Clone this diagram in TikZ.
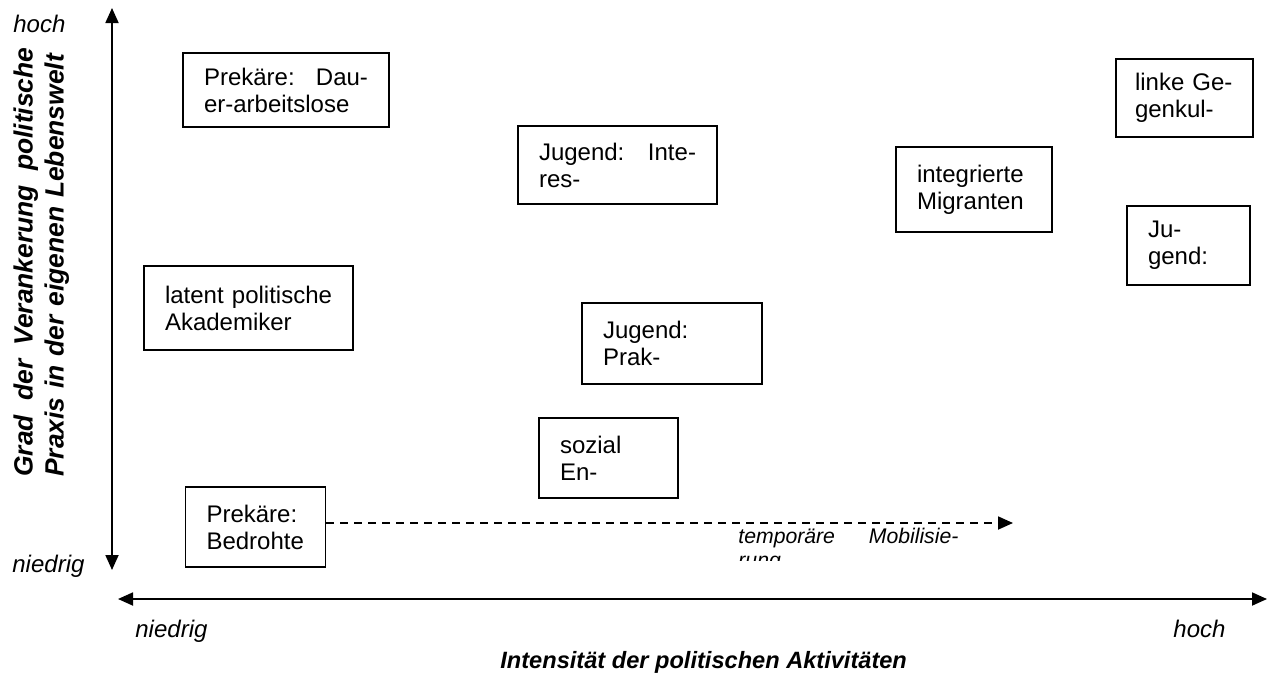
\documentclass[tikz,border=0pt]{standalone}
\usepackage{fontspec}
\setmainfont{Liberation Sans}
\usetikzlibrary{arrows.meta}
\setlength{\parindent}{0pt}
\hyphenpenalty=10000

\begin{document}
\begin{tikzpicture}[x=0.5pt, y=-0.5pt,
		box/.style = {draw, line width=0.9pt, inner xsep=10.5pt, inner ysep=0pt, align=left, font=\fontsize{12}{13.5}\selectfont},
		lbl/.style = {inner sep=0pt, anchor=base west, font=\fontsize{12}{13.5}\selectfont\itshape},
		titel/.style = {inner sep=0pt, font=\fontsize{11.8}{14}\selectfont\bfseries\itshape},
		axis/.style = {line width=0.9pt, {Triangle[length=7.5pt,width=6.5pt]}-{Triangle[length=7.5pt,width=6.5pt]}},
		mobil/.style = {line width=0.9pt, dash pattern=on 4pt off 3pt, -{Triangle[length=7.5pt,width=6.5pt]}}]
		\useasboundingbox (0,0) rectangle (1268,675);
		% axes
		\coordinate (ytop) at (112,8);
		\coordinate (ybot) at (112,570);
		\coordinate (xleft) at (118,599);
		\coordinate (xright) at (1267,599);
		\draw[axis] (ybot) -- (ytop);
		\draw[axis] (xleft) -- (xright);
		\node[lbl] (yhoch) at (13,32) {hoch};
		\node[lbl] (yniedrig) at (12,572) {niedrig};
		\node[lbl] (xniedrig) at (135,637) {niedrig};
		\node[lbl] (xhoch) at (1173,637) {hoch};
		\node[titel, rotate=90, anchor=north west, text width=214.5pt, align=left, font=\fontsize{13.2}{15.5}\selectfont\bfseries\itshape] (ytitel) at (13,477) {Grad\hfill der\hfill Verankerung\hfill politische\\Praxis in der eigenen Lebenswelt};
		\node[titel, anchor=base west] (xtitel) at (500,668) {Intensität der politischen Aktivitäten};
		% groups
		\node[box, text width=82pt, minimum height=37pt] (dauer) at (286,90) {Prekäre:\hfill Dau-\\er-arbeitslose};
		\node[box, text width=78.5pt, minimum height=39pt] (interes) at (617.5,165) {Jugend:\hfill Inte-\\res-};
		\node[box, text width=69pt, minimum height=40.5pt] (prak) at (672,343.5) {Jugend:\\Prak-};
		\node[box, text width=48.5pt, minimum height=40pt] (sozial) at (608.5,458) {sozial\\En-};
		\node[box, text width=49pt, minimum height=40pt] (bedrohte) at (255.5,527) {Prekäre:\\Bedrohte};
		\node[box, text width=83.5pt, minimum height=42pt] (latent) at (248.5,308) {latent\hfill politische\\Akademiker};
		\node[box, text width=49.5pt, inner xsep=9.5pt, minimum height=39pt] (linke) at (1184.5,98) {\mbox{linke Ge-}\\genkul-};
		\node[box, text width=57pt, minimum height=42.5pt] (migranten) at (974,189.5) {integrierte\\Migranten};
		\node[box, text width=40.5pt, minimum height=39.5pt] (jugend) at (1188.5,245.5) {Ju-\\gend:};
		% mobilisation
		\coordinate (ziel) at (1013,523);
		\draw[mobil] ([yshift=2pt]bedrohte.east) -- (ziel);
		\begin{scope}
			\clip (0,0) rectangle (1268,560);
			\node[lbl, anchor=north west, text width=110pt, align=left, font=\fontsize{10.6}{12}\selectfont\itshape] (mobtext) at (738,527.5) {temporäre\hfill Mobilisie-\\rung};
		\end{scope}
	\end{tikzpicture}
\end{document}
